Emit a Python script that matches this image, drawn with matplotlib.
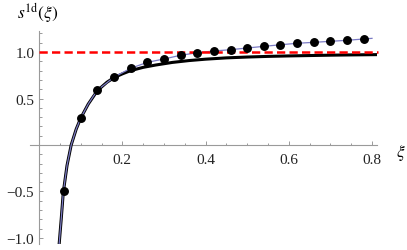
import numpy as np
import matplotlib
matplotlib.use("Agg")
import matplotlib.pyplot as plt
from matplotlib.ticker import MultipleLocator, FixedLocator

plt.rcParams['font.family'] = 'Liberation Serif'
plt.rcParams['mathtext.fontset'] = 'stix'
plt.rcParams['axes.unicode_minus'] = True

# data
# thick black curve
xi_curve = [0.048, 0.053, 0.058, 0.067, 0.077, 0.089, 0.100, 0.118, 0.140, 0.163,
            0.180, 0.200, 0.220, 0.250, 0.280, 0.320, 0.360, 0.400, 0.450, 0.500,
            0.550, 0.600, 0.650, 0.700, 0.750, 0.815]
s_curve = [-1.07, -0.80, -0.51, -0.22, 0.0, 0.17, 0.29, 0.44, 0.585, 0.675,
           0.725, 0.765, 0.80, 0.835, 0.86, 0.888, 0.908, 0.923, 0.937, 0.946,
           0.953, 0.958, 0.962, 0.966, 0.969, 0.972]

# dots
xi_pts = [0.06, 0.10, 0.14, 0.18, 0.22, 0.26, 0.30, 0.34, 0.38, 0.42,
          0.46, 0.50, 0.54, 0.58, 0.62, 0.66, 0.70, 0.74, 0.78]
s_pts = [-0.50, 0.29, 0.59, 0.73, 0.825, 0.889, 0.925, 0.965, 0.992, 1.011,
         1.025, 1.043, 1.061, 1.078, 1.094, 1.104, 1.115, 1.126, 1.14]

# thin blue line through the dots
xi_fit = [0.048, 0.053, 0.058, 0.067, 0.077, 0.089, 0.100, 0.118, 0.140, 0.18,
          0.22, 0.26, 0.30, 0.34, 0.38, 0.42, 0.46, 0.50, 0.54, 0.58,
          0.62, 0.66, 0.70, 0.74, 0.78, 0.80]
s_fit = [-1.07, -0.80, -0.51, -0.22, 0.0, 0.17, 0.29, 0.44, 0.59, 0.73,
         0.825, 0.889, 0.925, 0.965, 0.992, 1.011, 1.025, 1.043, 1.061, 1.078,
         1.094, 1.104, 1.115, 1.126, 1.14, 1.147]

ref_level = 1.0

fig = plt.figure(figsize=(4.07, 2.51), dpi=100)
ax = fig.add_axes([0.0737, 0.0239, 0.8526, 0.8486])
ax.set_xlim(-0.022, 0.812)
ax.set_ylim(-1.065, 1.226)

ax.plot(xi_curve, s_curve, color='black', lw=2.2, zorder=3, solid_capstyle='butt')
ax.plot(xi_fit, s_fit, color='#7b7bc4', lw=0.9, zorder=4)
ax.plot([0, 0.815], [ref_level, ref_level], color='#ff0000', lw=1.8,
        dashes=(3.3, 1.7), zorder=5, clip_on=False)
ax.plot(xi_pts, s_pts, 'o', color='black', ms=5.4, zorder=6)

# mathematica-like axes through origin
for side in ['top', 'right']:
    ax.spines[side].set_visible(False)
for side in ['left', 'bottom']:
    ax.spines[side].set_position(('data', 0))
    ax.spines[side].set_color('#9a9a9a')
    ax.spines[side].set_linewidth(0.8)

ax.xaxis.set_major_locator(FixedLocator([0.2, 0.4, 0.6, 0.8]))
ax.xaxis.set_minor_locator(MultipleLocator(0.05))
ax.yaxis.set_major_locator(FixedLocator([-1.0, -0.5, 0.5, 1.0]))
ax.yaxis.set_minor_locator(MultipleLocator(0.1))
ax.set_xticklabels(['0.2', '0.4', '0.6', '0.8'])
ax.set_yticklabels(['\u22121.0', '\u22120.5', '0.5', '1.0'])

ax.tick_params(which='both', direction='in', color='#9a9a9a', width=0.7,
               labelsize=11, labelcolor='#222222')
ax.tick_params(which='major', length=3.2)
ax.tick_params(which='minor', length=1.8)
ax.tick_params(axis='x', pad=6)
ax.tick_params(axis='y', pad=3.5)

fig.text(38 / 407, 1 - 13 / 251, r'$s^{\mathrm{1d}}(\xi)$', fontsize=12.5,
         ha='center', va='center')
fig.text(401 / 407, 1 - 153 / 251, r'$\xi$', fontsize=12.5,
         ha='center', va='center')

fig.savefig('out.png', dpi=100)
